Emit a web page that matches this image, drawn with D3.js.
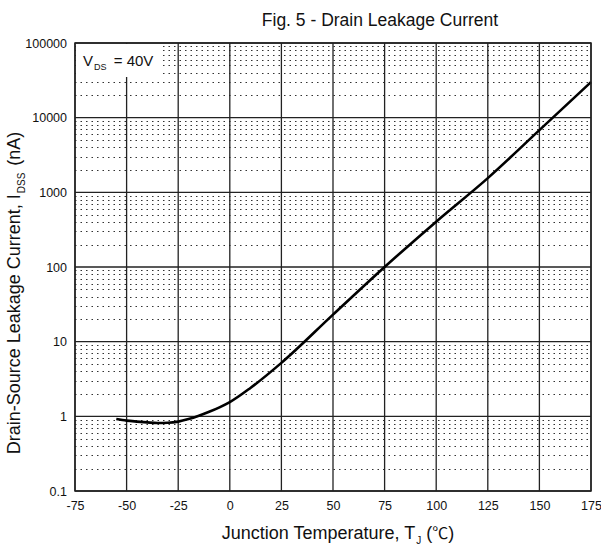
<!DOCTYPE html>
<html>
<head>
<meta charset="utf-8">
<script src="https://cdn.jsdelivr.net/npm/d3@7"></script>
<style>
  body { margin: 0; background: #fff; }
  text { font-family: Arial, "Liberation Sans", sans-serif; fill: #111; }
</style>
</head>
<body>
<div id="chart"></div>
<script>
// temperature (C) and leakage current (nA)
var temps = [-55, -50, -45, -40, -35, -30, -25, -20, -15, -10, -5, 0, 10, 25, 50, 75, 100, 125, 150, 175];
var leak  = [0.92, 0.875, 0.85, 0.83, 0.815, 0.82, 0.85, 0.92, 1.02, 1.15, 1.32, 1.55, 2.4, 5.2, 23, 100, 405, 1550, 6800, 30000];

var xTicks = [-75, -50, -25, 0, 25, 50, 75, 100, 125, 150, 175];
var yTicks = [0.1, 1, 10, 100, 1000, 10000, 100000];

var W = 601, H = 546;
var pLeft = 75, pRight = 591, pTop = 43, pBottom = 491;

var svg = d3.select("#chart").append("svg")
  .attr("width", W)
  .attr("height", H);

var x = d3.scaleLinear().domain([-75, 175]).range([pLeft, pRight]);
var y = d3.scaleLog().domain([0.1, 100000]).range([pBottom, pTop]);

// minor dotted lines 2..9 in each decade
var minor = [];
yTicks.slice(0, -1).forEach(function(d) {
  for (var k = 2; k <= 9; k++) minor.push(d * k);
});

svg.append("g")
  .selectAll("line")
  .data(minor)
  .join("line")
  .attr("x1", pLeft).attr("x2", pRight)
  .attr("y1", function(d) { return Math.round(y(d)) + 0.5; })
  .attr("y2", function(d) { return Math.round(y(d)) + 0.5; })
  .attr("stroke", "#333")
  .attr("stroke-width", 1)
  .attr("stroke-dasharray", "1.5,4");

// major grid
svg.append("g")
  .selectAll("line")
  .data(yTicks)
  .join("line")
  .attr("x1", pLeft).attr("x2", pRight)
  .attr("y1", function(d) { return y(d); })
  .attr("y2", function(d) { return y(d); })
  .attr("stroke", "#222")
  .attr("stroke-width", 1.3);

svg.append("g")
  .selectAll("line")
  .data(xTicks)
  .join("line")
  .attr("x1", function(d) { return x(d); })
  .attr("x2", function(d) { return x(d); })
  .attr("y1", pTop).attr("y2", pBottom)
  .attr("stroke", "#222")
  .attr("stroke-width", 1.3);

// label box over the grid
svg.append("rect")
  .attr("x", pLeft + 1).attr("y", pTop + 1)
  .attr("width", 85).attr("height", 33)
  .attr("fill", "#fff");

var vds = svg.append("text")
  .attr("x", 83).attr("y", 66)
  .style("font-size", "15px");
vds.append("tspan").text("V");
vds.append("tspan").attr("dy", 4).attr("dx", 1).style("font-size", "9px").text("DS");
vds.append("tspan").attr("dy", -4).attr("dx", 3).text(" = 40V");

// curve
var line = d3.line()
  .x(function(d, i) { return x(temps[i]); })
  .y(function(d) { return y(d); })
  .curve(d3.curveMonotoneX);

svg.append("path")
  .datum(leak)
  .attr("d", line)
  .attr("fill", "none")
  .attr("stroke", "#000")
  .attr("stroke-width", 2.6);

// frame
svg.append("rect")
  .attr("x", pLeft).attr("y", pTop)
  .attr("width", pRight - pLeft).attr("height", pBottom - pTop)
  .attr("fill", "none")
  .attr("stroke", "#222")
  .attr("stroke-width", 1.5);

// axes
var xAxis = svg.append("g")
  .attr("transform", "translate(0," + pBottom + ")")
  .call(d3.axisBottom(x).tickValues(xTicks).tickSize(0).tickPadding(10).tickFormat(function(d) { return String(d); }));
xAxis.select(".domain").remove();
xAxis.selectAll("text").style("font-size", "12.5px").style("font-family", "Arial, 'Liberation Sans', sans-serif");

var yAxis = svg.append("g")
  .attr("transform", "translate(" + pLeft + ",0)")
  .call(d3.axisLeft(y).tickValues(yTicks).tickSize(0).tickPadding(8).tickFormat(function(d) { return String(d); }));
yAxis.select(".domain").remove();
yAxis.selectAll("text").style("font-size", "12.5px").style("font-family", "Arial, 'Liberation Sans', sans-serif");

// title
svg.append("text")
  .attr("x", 380).attr("y", 26)
  .attr("text-anchor", "middle")
  .style("font-size", "17.5px")
  .text("Fig. 5 - Drain Leakage Current");

// x title
var xt = svg.append("text")
  .attr("x", 338).attr("y", 539)
  .attr("text-anchor", "middle")
  .style("font-size", "18px");
xt.append("tspan").text("Junction Temperature, T");
xt.append("tspan").attr("dy", 5).attr("dx", 1).style("font-size", "10px").text("J");
xt.append("tspan").attr("dy", -5).text(" (");
xt.append("tspan").style("font-family", "'Noto Sans CJK SC', sans-serif").style("font-size", "16px").text("\u2103");
xt.append("tspan").text(")");

// y title
var yt = svg.append("text")
  .attr("transform", "translate(20,293) rotate(-90)")
  .attr("text-anchor", "middle")
  .style("font-size", "18px");
yt.append("tspan").text("Drain-Source Leakage Current, I");
yt.append("tspan").attr("dy", 5).attr("dx", 1).style("font-size", "10px").text("DSS");
yt.append("tspan").attr("dy", -5).attr("dx", 2).text(" (nA)");
</script>
</body>
</html>
